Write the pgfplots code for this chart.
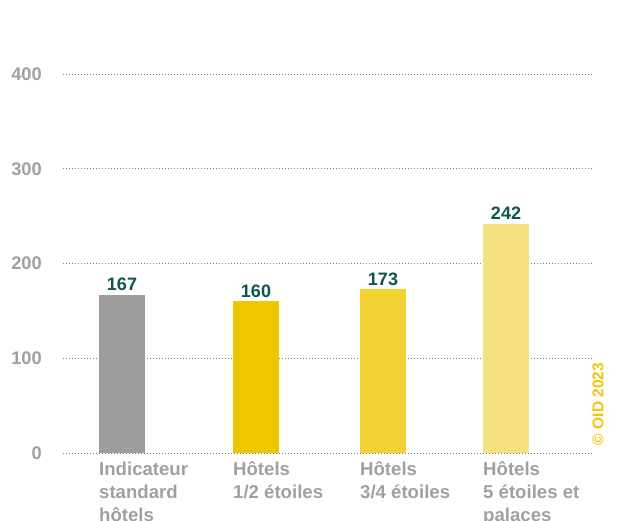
\documentclass[border=0pt]{standalone}
\usepackage{pgfplots}
\pgfplotsset{compat=1.18}
\usepackage{fontspec}
\setmainfont{Liberation Sans}
\definecolor{bargray}{HTML}{9D9D9B}
\definecolor{baryA}{HTML}{F0C600}
\definecolor{baryB}{HTML}{F2D232}
\definecolor{baryC}{HTML}{F6E17F}
\definecolor{teal}{HTML}{0E5450}
\definecolor{tickgray}{HTML}{A0A0A0}
\definecolor{gridgray}{HTML}{7A7A7A}
\definecolor{copy}{HTML}{F2C500}
\begin{document}
\begin{tikzpicture}[x=1pt,y=1pt]
\path[use as bounding box] (0,0) rectangle (617,520);
\clip (0,0) rectangle (617,520);
\begin{axis}[
  at={(63pt,67pt)}, anchor=south west,
  scale only axis, width=530pt, height=379pt,
  xmin=63, xmax=593, ymin=0, ymax=400,
  axis line style={draw=none},
  ybar, bar width=46pt, bar shift=0pt,
  ytick={0,100,200,300,400},
  ymajorgrids,
  major grid style={gridgray, line width=1pt, dash pattern=on 1pt off 2pt},
  major tick length=0pt, tick style={draw=none},
  /pgf/number format/assume math mode=true,
  yticklabel style={font=\fontsize{18.3}{20}\selectfont\bfseries, text=tickgray, anchor=east, inner sep=0pt, xshift=-21pt},
  xtick={122,256,383,506},
  xticklabels={{\rule{0pt}{15pt}Indicateur\\standard\\hôtels},{\rule{0pt}{15pt}Hôtels\\1/2 étoiles},{\rule{0pt}{15pt}Hôtels\\3/4 étoiles},{\rule{0pt}{15pt}Hôtels\\5 étoiles et\\palaces}},
  xticklabel style={font=\fontsize{18.6}{23}\selectfont\bfseries, text=tickgray, anchor=north west, align=left, inner sep=0pt, xshift=-23pt, yshift=-7.5pt},
  nodes near coords,
  every node near coord/.append style={font=\fontsize{18}{18}\selectfont\bfseries, text=teal, anchor=base, inner sep=0pt, yshift=4pt},
  clip=false,
]
\addplot[fill=bargray, draw=none] coordinates {(122,167)};
\addplot[fill=baryA, draw=none] coordinates {(256,160)};
\addplot[fill=baryB, draw=none] coordinates {(383,173)};
\addplot[fill=baryC, draw=none] coordinates {(506,242)};
\end{axis}
\node[rotate=90, font=\fontsize{15.5}{16}\selectfont\bfseries, text=copy, inner sep=0pt] at (598,116) {© OID 2023};
\end{tikzpicture}
\end{document}
